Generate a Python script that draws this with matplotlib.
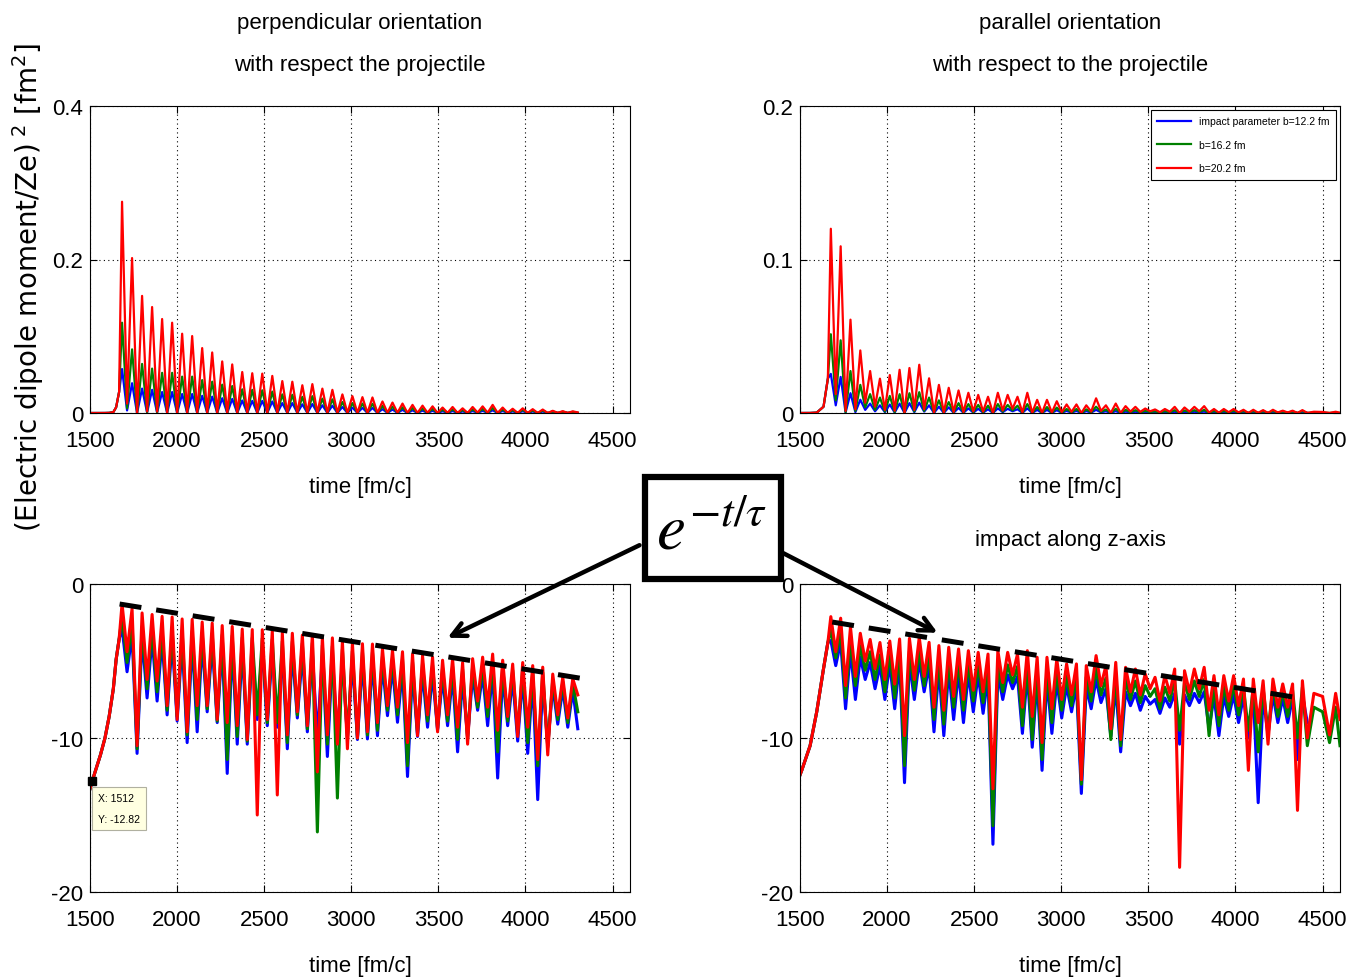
import numpy as np
import matplotlib
matplotlib.use('Agg')
import matplotlib.pyplot as plt
from matplotlib.patches import Rectangle

plt.rcParams['font.family'] = ['Liberation Sans Narrow', 'Liberation Sans', 'DejaVu Sans']

# ln of (dipole moment/Ze)^2 (peaks and dips of each arch)

# perpendicular orientation
perp_t0, perp_period = 1684, 57.5
perp_rise_t = [1500, 1512, 1560, 1586, 1610, 1634, 1650, 1667]
perp_rise_ln = [-13.3, -12.82, -11.1, -10.0, -8.6, -6.8, -4.9, -3.6]

perp_peak_r = [-1.29, -1.60, -1.88, -1.98, -2.10, -2.14, -2.27, -2.30, -2.47, -2.54,
               -2.70, -2.76, -2.93, -2.96, -2.97, -3.03, -3.18, -3.20, -3.32, -3.28,
               -3.45, -3.50, -3.72, -3.82, -3.88, -3.90, -4.20, -4.30, -4.40, -4.55,
               -4.65, -4.75, -4.95, -4.85, -5.10, -4.85, -4.75, -4.55, -4.95, -5.20,
               -5.10, -5.30, -5.40, -5.85, -6.05, -6.15]
perp_peak_g = [-2.14, -2.49, -2.75, -2.85, -2.95, -2.95, -3.05, -3.05, -3.15, -3.2,
               -3.3, -3.35, -3.48, -3.5, -3.52, -3.58, -3.72, -3.74, -3.86, -3.82,
               -3.98, -4.03, -4.25, -4.35, -4.4, -4.42, -4.7, -4.8, -4.9, -5.05,
               -5.15, -5.25, -5.45, -5.35, -5.55, -5.35, -5.25, -5.05, -5.4, -5.6,
               -5.5, -5.7, -5.75, -6.2, -6.35, -6.45]
perp_peak_b = [-2.86, -3.25, -3.45, -3.5, -3.6, -3.6, -3.7, -3.7, -3.8, -3.85,
               -3.95, -4.0, -4.12, -4.15, -4.15, -4.2, -4.35, -4.35, -4.48, -4.45,
               -4.6, -4.65, -4.85, -4.95, -5.0, -5.02, -5.3, -5.4, -5.5, -5.65,
               -5.75, -5.85, -6.05, -5.95, -6.15, -5.95, -5.85, -5.65, -5.95, -6.15,
               -6.05, -6.2, -6.25, -6.65, -6.8, -6.9]
perp_dip_r = [-4.4, -10.5, -6.2, -6.3, -7.9, -8.8, -9.6, -7.9, -7.9, -8.8,
              -9.0, -9.2, -10.1, -15.0, -8.8, -13.7, -9.8, -8.3, -9.2, -12.2,
              -9.8, -10.4, -10.7, -10.0, -9.6, -9.0, -7.9, -8.0, -10.3, -9.85,
              -8.5, -9.6, -8.5, -9.3, -10.4, -7.6, -8.0, -9.5, -8.6, -9.9,
              -9.3, -11.4, -11.1, -8.5, -8.7, -7.2]
perp_dip_g = [-5.1, -10.7, -6.8, -7.0, -8.2, -8.6, -9.8, -8.8, -8.1, -8.9,
              -11.4, -9.9, -10.2, -8.5, -9.0, -9.0, -10.3, -8.5, -9.4, -16.1,
              -10.4, -13.9, -10.0, -10.0, -9.8, -9.5, -8.2, -8.5, -11.8, -9.7,
              -8.9, -9.4, -8.9, -10.1, -10.0, -8.0, -8.6, -10.9, -8.9, -9.7,
              -10.3, -11.8, -10.6, -8.8, -9.0, -8.3]
perp_dip_b = [-5.7, -11.0, -7.4, -7.6, -8.5, -8.9, -10.3, -9.6, -8.3, -9.0,
              -12.3, -10.4, -10.4, -8.8, -9.2, -9.3, -10.7, -8.7, -9.6, -10.0,
              -11.2, -10.0, -10.0, -10.1, -10.06, -9.85, -8.55, -8.98, -12.5, -9.9,
              -9.3, -9.5, -9.2, -10.9, -10.0, -8.2, -9.2, -12.6, -9.2, -10.2,
              -11.0, -14.0, -10.5, -9.1, -9.3, -9.4]
perp_fit_t = [1670, 4360]
perp_fit_ln = [-1.3, -6.2]
tip_x, tip_y = 1512, -12.82

# parallel orientation
par_t0, par_period = 1677, 56.4
par_rise_t = [1500, 1510, 1558, 1596, 1635, 1660]
par_rise_ln = [-12.4, -12.1, -10.5, -8.3, -5.5, -3.8]

par_peak_r = [-2.12, -2.22, -2.8, -3.2, -3.6, -3.8, -3.7, -3.57, -3.53, -3.46,
              -3.79, -4.0, -4.11, -4.22, -4.33, -4.44, -4.55, -4.33, -4.44, -4.55,
              -4.33, -4.76, -4.76, -4.87, -5.19, -5.19, -5.3, -4.65, -5.3, -5.09,
              -5.41, -5.52, -5.84, -6.06, -5.95, -5.52, -5.63, -5.52, -5.41, -5.95,
              -5.95, -5.95, -6.17, -6.17, -6.28, -6.17, -6.49, -6.49, -6.28]
par_peak_g = [-2.97, -3.05, -3.6, -4.0, -4.4, -4.6, -4.5, -4.4, -4.35, -4.3,
              -4.6, -4.8, -4.95, -5.05, -5.15, -5.25, -5.35, -5.15, -5.25, -5.35,
              -5.15, -5.55, -5.55, -5.65, -5.95, -5.95, -6.05, -5.5, -6.1, -5.9,
              -6.2, -6.3, -6.6, -6.8, -6.7, -6.3, -6.4, -6.3, -6.2, -6.6,
              -6.6, -6.55, -6.7, -6.7, -6.75, -6.65, -6.9, -6.9, -6.7]
par_peak_b = [-3.67, -3.75, -4.35, -4.75, -5.1, -5.3, -5.2, -5.1, -5.05, -5.0,
              -5.3, -5.5, -5.6, -5.7, -5.8, -5.9, -6.0, -5.8, -5.9, -6.0,
              -5.8, -6.2, -6.2, -6.3, -6.6, -6.6, -6.7, -6.2, -6.8, -6.7,
              -7.0, -7.1, -7.3, -7.5, -7.4, -7.1, -7.2, -7.1, -7.0, -7.3,
              -7.3, -7.2, -7.3, -7.2, -7.3, -7.2, -7.4, -7.4, -7.2]
par_dip_r = [-4.4, -6.6, -6.0, -5.0, -5.5, -6.2, -6.5, -9.85, -6.2, -6.0,
             -8.0, -8.2, -7.3, -7.5, -6.9, -7.0, -13.3, -6.4, -5.9, -8.0,
             -8.6, -10.3, -8.1, -7.5, -7.2, -12.7, -7.0, -6.6, -9.4, -10.1,
             -7.0, -7.2, -6.8, -7.6, -7.1, -18.4, -7.0, -6.8, -8.2, -8.5,
             -7.6, -7.9, -12.1, -9.0, -10.4, -8.0, -8.0, -14.7, -10.0]
par_dip_g = [-4.8, -7.4, -6.6, -5.6, -6.2, -7.0, -7.4, -11.8, -6.9, -6.6,
             -8.8, -9.1, -8.0, -8.2, -7.6, -7.7, -15.7, -7.0, -6.4, -9.2,
             -10.1, -11.4, -9.0, -8.2, -7.9, -13.0, -7.6, -7.2, -10.1, -10.5,
             -7.5, -7.7, -7.3, -8.1, -7.6, -9.5, -7.5, -7.3, -9.85, -9.2,
             -8.2, -8.5, -9.5, -10.9, -9.6, -8.6, -8.6, -10.0, -10.5]
par_dip_b = [-5.3, -8.1, -7.5, -6.2, -6.8, -7.5, -8.1, -12.9, -7.5, -7.0,
             -9.6, -9.85, -8.8, -9.0, -8.3, -8.4, -16.9, -7.5, -6.8, -9.7,
             -10.6, -12.1, -9.7, -8.7, -8.3, -13.6, -8.1, -7.7, -9.9, -10.9,
             -7.9, -8.2, -7.8, -8.4, -8.0, -10.4, -7.9, -7.7, -9.4, -9.85,
             -8.6, -9.0, -10.0, -14.2, -9.8, -9.0, -9.0, -11.4, -9.0]
par_tail_t = [4450, 4500, 4540, 4575, 4600]
par_tail_r = [-7.1, -7.3, -9.8, -7.1, -8.8]
par_tail_g = [-8.0, -8.3, -10.3, -8.0, -10.5]
par_fit_t = [1685, 4403]
par_fit_ln = [-2.47, -7.47]

labels = ['impact parameter b=12.2 fm', 'b=16.2 fm', 'b=20.2 fm']
colors = ['#0000ff', '#008000', '#ff0000']


def build(rise_t, rise_ln, t0, period, peaks, dips, tail_t=(), tail_ln=()):
    n = len(peaks)
    tp = t0 + period * np.arange(n)
    t = np.empty(2 * n)
    v = np.empty(2 * n)
    t[0::2], t[1::2] = tp, tp + period / 2
    v[0::2], v[1::2] = peaks, dips
    return (np.concatenate([rise_t, t, tail_t]),
            np.concatenate([rise_ln, v, tail_ln]))


perp = [build(perp_rise_t, perp_rise_ln, perp_t0, perp_period, p, d)
        for p, d in [(perp_peak_b, perp_dip_b), (perp_peak_g, perp_dip_g), (perp_peak_r, perp_dip_r)]]
par = [build(par_rise_t, par_rise_ln, par_t0, par_period, par_peak_b, par_dip_b),
       build(par_rise_t, par_rise_ln, par_t0, par_period, par_peak_g, par_dip_g, par_tail_t, par_tail_g),
       build(par_rise_t, par_rise_ln, par_t0, par_period, par_peak_r, par_dip_r, par_tail_t, par_tail_r)]

W, H = 1348, 979
fig = plt.figure(figsize=(W / 100, H / 100), dpi=100)
fs = 16


def make_ax(x0, y0, x1, y1):
    ax = fig.add_axes([x0 / W, 1 - y1 / H, (x1 - x0) / W, (y1 - y0) / H])
    ax.patch.set_alpha(0)
    ax.set_xlim(1500, 4600)
    ax.set_xticks([1500, 2000, 2500, 3000, 3500, 4000, 4500])
    ax.tick_params(direction='in', top=True, right=True, length=5, labelsize=fs)
    ax.tick_params(axis='x', pad=12)
    ax.tick_params(axis='y', pad=5)
    ax.grid(True, color='k', linestyle=(0, (1, 3)), linewidth=0.8)
    for s in ax.spines.values():
        s.set_linewidth(0.8)
    return ax


ax_tl = make_ax(90, 107, 630, 414)
ax_tr = make_ax(800, 107, 1340, 414)
ax_bl = make_ax(90, 585, 630, 893)
ax_br = make_ax(800, 585, 1340, 893)

for (t, v), c, lab in zip(perp, colors, labels):
    ax_tl.plot(t, np.exp(v), color=c, lw=1.6)
    ax_bl.plot(t, v, color=c, lw=2.2)
for (t, v), c, lab in zip(par, colors, labels):
    ax_tr.plot(t, np.exp(v), color=c, lw=1.6, label=lab)
    ax_br.plot(t, v, color=c, lw=2.2)

ax_tl.set_ylim(0, 0.4)
ax_tl.set_yticks([0, 0.2, 0.4])
ax_tl.set_yticklabels(['0', '0.2', '0.4'])
ax_tr.set_ylim(0, 0.2)
ax_tr.set_yticks([0, 0.1, 0.2])
ax_tr.set_yticklabels(['0', '0.1', '0.2'])
for ax in (ax_bl, ax_br):
    ax.set_ylim(-20, 0)
    ax.set_yticks([-20, -10, 0])
    ax.set_yticklabels(['-20', '-10', '0'])

for ax in (ax_tl, ax_tr, ax_bl, ax_br):
    ax.set_xlabel('time [fm/c]', fontsize=fs, labelpad=18)

ax_tl.set_title('perpendicular orientation\nwith respect the projectile', fontsize=fs, pad=26, linespacing=2.3)
ax_tr.set_title('parallel orientation\nwith respect to the projectile', fontsize=fs, pad=26, linespacing=2.3)
ax_br.set_title('impact along z-axis', fontsize=fs, pad=28)

leg = ax_tr.legend(loc='upper right', fontsize=7.5, handlelength=3.2, labelspacing=1.3,
                   borderaxespad=0.4, borderpad=0.6, fancybox=False, framealpha=1)
leg.get_frame().set_edgecolor('k')
leg.get_frame().set_linewidth(0.8)

# fitted exponential decay (dashed)
ax_bl.plot(perp_fit_t, perp_fit_ln, color='k', lw=3.6, linestyle='--', dashes=(4.4, 3))
ax_br.plot(par_fit_t, par_fit_ln, color='k', lw=3.6, linestyle='--', dashes=(4.4, 3))

# data tip
ax_bl.plot([tip_x], [tip_y], marker='s', color='k', ms=6, clip_on=False, zorder=5)
ax_bl.text(tip_x + 35, tip_y - 0.75, 'X: %d\nY: %.2f' % (tip_x, tip_y), fontsize=7.5, va='top', ha='left',
           linespacing=2.4,
           bbox=dict(boxstyle='square,pad=0.6', fc='#ffffe1', ec='#b0b0a0', lw=0.8))

fig.text(28 / W, 1 - 288 / H, r'(Electric dipole moment/Ze)$^{\ 2}$ [fm$^2$]', rotation=90,
         ha='center', va='center', fontsize=20, family='DejaVu Sans')

# e^{-t/tau} box with arrows
fig.patches.append(Rectangle((645 / W, 1 - 580 / H), 136 / W, 102 / H, transform=fig.transFigure,
                             fc='white', ec='k', lw=4.5, zorder=10))
fig.text(712 / W, 1 - 532 / H, r'$e^{-t/\tau}$', fontsize=47, math_fontfamily='stix',
         ha='center', va='center', zorder=11)
for ax, start, end in [(ax_bl, (642, 545), (445, 640)), (ax_br, (781, 553), (940, 635))]:
    ax.annotate('', xy=(end[0] / W, 1 - end[1] / H), xytext=(start[0] / W, 1 - start[1] / H),
                xycoords='figure fraction', textcoords='figure fraction', annotation_clip=False,
                arrowprops=dict(arrowstyle='->,head_length=1.0,head_width=0.5', lw=3.2, color='k'))

fig.savefig('out.png', dpi=100)
